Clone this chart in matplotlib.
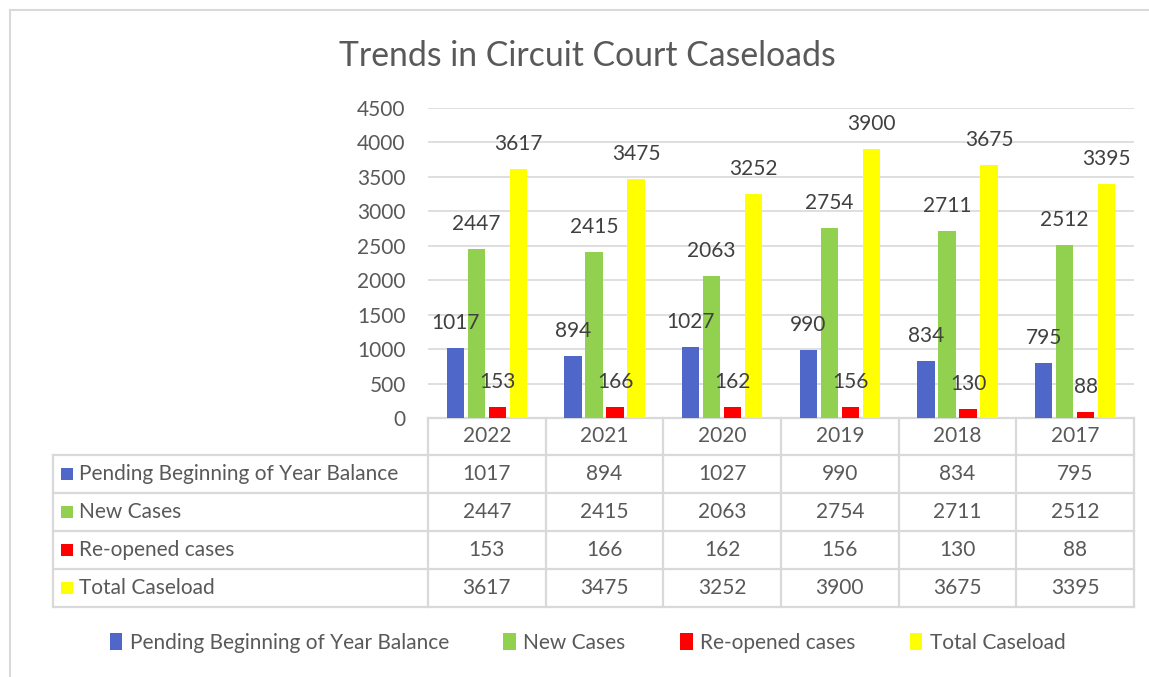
import numpy as np
import matplotlib
matplotlib.use("Agg")
import matplotlib.pyplot as plt
import matplotlib.transforms as mtransforms
from matplotlib.patches import Patch
from matplotlib.lines import Line2D

plt.rcParams['font.family'] = ['Lato', 'DejaVu Sans']

years = ['2022', '2021', '2020', '2019', '2018', '2017']
series_names = ['Pending Beginning of Year Balance', 'New Cases',
                'Re-opened cases', 'Total Caseload']
pending = [1017, 894, 1027, 990, 834, 795]
new_cases = [2447, 2415, 2063, 2754, 2711, 2512]
reopened = [153, 166, 162, 156, 130, 88]
total = [3617, 3475, 3252, 3900, 3675, 3395]
colors = ['#4F67C8', '#92D050', '#FF0000', '#FFFF00']

series = [pending, new_cases, reopened, total]
txt = '#595959'
grid_c = '#D9D9D9'
fs = 15

W, H = 1149, 677
fig = plt.figure(figsize=(W / 100, H / 100), dpi=100)
# plot area in pixels: x 428..1134, y 108..418
ax = fig.add_axes([428 / W, 1 - 418 / H, (1134 - 428) / W, (418 - 108) / H])

x = np.arange(len(years))
bw = 0.145
step = 0.1785
for i, (vals, c) in enumerate(zip(series, colors)):
    pos = x + (i - 1.5) * step
    ax.bar(pos, vals, width=bw, color=c, zorder=3)
    for p, v in zip(pos, vals):
        ax.annotate(str(v), (p, v), xytext=(0, 18), textcoords='offset points',
                    ha='center', va='center', fontsize=fs, color='#404040', zorder=4)

ax.set_xlim(-0.5, len(years) - 0.5)
ax.set_ylim(0, 4500)
ax.set_yticks(np.arange(0, 4501, 500))
ax.yaxis.grid(True, color=grid_c, lw=1.2, zorder=0)
ax.set_xticks([])
ax.tick_params(axis='y', length=0, pad=16, labelsize=fs, labelcolor=txt)
for s in ax.spines.values():
    s.set_visible(False)

# data table under the plot, columns follow the category axis
tr = mtransforms.blended_transform_factory(ax.transData, ax.transAxes)
ph = 418 - 108
hdr = -37 / ph
row_h = 38 / ph
bottom = hdr - 4 * row_h
left = -0.5 - (428 - 53) / ((1134 - 428) / len(years))
lkw = dict(color=grid_c, lw=1.6, transform=tr, clip_on=False, zorder=1)

ax.plot([-0.5, len(years) - 0.5], [0, 0], **lkw)
for k in range(5):
    y = hdr - k * row_h
    ax.plot([left, len(years) - 0.5], [y, y], **lkw)
for xi in np.arange(-0.5, len(years), 1.0):
    ax.plot([xi, xi], [0, bottom], **lkw)
ax.plot([left, left], [hdr, bottom], **lkw)

for j, yr in enumerate(years):
    ax.text(j, hdr / 2, yr, transform=tr, ha='center', va='center',
            fontsize=fs, color=txt)
for k, (name, vals, c) in enumerate(zip(series_names, series, colors)):
    yc = hdr - (k + 0.5) * row_h
    ax.plot([left + 0.12], [yc], marker='s', ms=9, mew=0, color=c,
            transform=tr, clip_on=False)
    ax.text(left + 0.22, yc, name, transform=tr, ha='left', va='center',
            fontsize=fs, color=txt)
    for j, v in enumerate(vals):
        ax.text(j, yc, str(v), transform=tr, ha='center', va='center',
                fontsize=fs, color=txt)

handles = [Patch(facecolor=c, edgecolor='none') for c in colors]
fig.legend(handles, series_names, loc='center', bbox_to_anchor=(587.5 / W, 1 - 643 / H),
           ncol=4, frameon=False, fontsize=fs, labelcolor=txt,
           handlelength=0.62, handleheight=0.85, handletextpad=0.35, columnspacing=2.6)

fig.text(587 / W, 1 - 56 / H, 'Trends in Circuit Court Caseloads', ha='center',
         va='center', fontsize=24.3, color=txt)

# chart frame (left and top edges visible in the crop)
fig.add_artist(Line2D([10 / W, 10 / W], [0, 1 - 10 / H], color=grid_c, lw=1.5))
fig.add_artist(Line2D([10 / W, 1], [1 - 10 / H, 1 - 10 / H], color=grid_c, lw=1.5))

fig.savefig('out.png', dpi=100, facecolor='white')
